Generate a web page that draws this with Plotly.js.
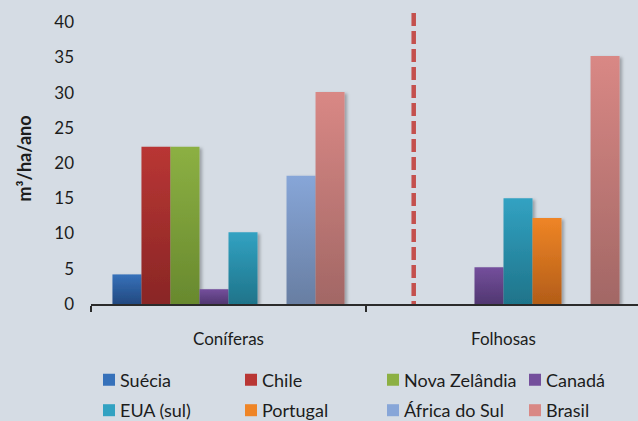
<!DOCTYPE html>
<html>
<head>
<meta charset="utf-8">
<script src="https://cdn.plot.ly/plotly-3.0.1.min.js"></script>
<style>
  html, body { margin: 0; padding: 0; background: #d5dce4; }
  #chart { width: 638px; height: 421px; }
</style>
</head>
<body>
<div id="chart"></div>
<script>
// Annual growth (m³/ha/ano) by wood type and country
const categories = ['Coníferas', 'Folhosas'];
const countries = ['Suécia', 'Chile', 'Nova Zelândia', 'Canadá', 'EUA (sul)', 'Portugal', 'África do Sul', 'Brasil'];

const suecia       = [4.2, null];
const chile        = [22.3, null];
const novaZelandia = [22.3, null];
const canada       = [2.1, 5.2];
const euaSul       = [10.2, 15];
const portugal     = [null, 12.2];
const africaSul    = [18.2, null];
const brasil       = [30.1, 35.2];

const seriesValues = [suecia, chile, novaZelandia, canada, euaSul, portugal, africaSul, brasil];

// Divider between the two groups, in category-axis units, and its height
const dividerX = 0.6735;
const dividerTop = 41.3;

// Bar fills: light top, darker base
const topColors    = ['#3671ba', '#b93634', '#8cb043', '#744f9c', '#32a2c2', '#ef8526', '#87a6d8', '#d98885'];
const bottomColors = ['#234980', '#892625', '#68892e', '#513771', '#1f748a', '#b35d18', '#687ea2', '#a26765'];

const FONT = 'Lato, "Open Sans", "DejaVu Sans", sans-serif';
const INK = '#1c1c1c';

const traces = countries.map((name, i) => ({
  type: 'bar',
  name: name,
  x: categories,
  y: seriesValues[i],
  marker: { color: topColors[i], line: { width: 0 } },
  legend: i < 4 ? 'legend' : 'legend2',
  hoverinfo: 'x+y+name'
}));

const legendBase = {
  orientation: 'h',
  xanchor: 'left',
  yanchor: 'middle',
  bgcolor: 'rgba(0,0,0,0)',
  borderwidth: 0,
  font: { family: FONT, size: 18, color: INK },
  entrywidthmode: 'pixels',
  entrywidth: 97,
  traceorder: 'normal'
};

const layout = {
  width: 638,
  height: 421,
  margin: { l: 91, r: 0, t: 13, b: 117, pad: 0, autoexpand: false },
  paper_bgcolor: '#d5dce4',
  plot_bgcolor: '#d5dce4',
  barmode: 'group',
  bargap: 0.156,
  bargroupgap: 0,
  showlegend: true,
  font: { family: FONT, color: INK },
  xaxis: {
    type: 'category',
    range: [-0.5, 1.4891],
    showgrid: false,
    zeroline: false,
    showline: true,
    linecolor: '#2b2b2b',
    linewidth: 2,
    ticks: 'outside',
    tickson: 'boundaries',
    ticklen: 6,
    tickwidth: 1.5,
    tickcolor: '#2b2b2b',
    ticklabelstandoff: 19,
    tickfont: { family: FONT, size: 17, color: INK }
  },
  yaxis: {
    range: [0, dividerTop],
    tick0: 0,
    dtick: 5,
    showgrid: false,
    zeroline: false,
    showline: false,
    ticks: '',
    ticklabelstandoff: 16,
    tickfont: { family: FONT, size: 17, color: INK },
    title: { text: '<b>m³/ha/ano</b>', font: { family: FONT, size: 18, color: INK }, standoff: 17 }
  },
  legend: Object.assign({}, legendBase, { x: -0.0201, y: -0.261 }),
  legend2: Object.assign({}, legendBase, { x: -0.0201, y: -0.366 }),
  shapes: [{
    type: 'line',
    xref: 'x', yref: 'y',
    x0: dividerX, x1: dividerX,
    y0: dividerTop, y1: 0,
    line: { color: '#c4504d', width: 4.5, dash: '13px,5px' },
    layer: 'above'
  }]
};

function ensureDefs(gd) {
  const ns = 'http://www.w3.org/2000/svg';
  if (document.getElementById('barFill0')) return;
  const svg = gd.querySelector('svg.main-svg');
  let defs = svg.querySelector('defs');
  if (!defs) { defs = document.createElementNS(ns, 'defs'); svg.insertBefore(defs, svg.firstChild); }

  countries.forEach((name, i) => {
    const lg = document.createElementNS(ns, 'linearGradient');
    lg.setAttribute('id', 'barFill' + i);
    lg.setAttribute('x1', '0'); lg.setAttribute('y1', '0');
    lg.setAttribute('x2', '0'); lg.setAttribute('y2', '1');
    [[0, topColors[i]], [1, bottomColors[i]]].forEach(([off, col]) => {
      const st = document.createElementNS(ns, 'stop');
      st.setAttribute('offset', off);
      st.setAttribute('stop-color', col);
      lg.appendChild(st);
    });
    defs.appendChild(lg);
  });

  const flt = document.createElementNS(ns, 'filter');
  flt.setAttribute('id', 'barShadow');
  flt.setAttribute('x', '-30%'); flt.setAttribute('y', '-10%');
  flt.setAttribute('width', '170%'); flt.setAttribute('height', '125%');
  const ds = document.createElementNS(ns, 'feDropShadow');
  ds.setAttribute('dx', '2.5'); ds.setAttribute('dy', '1.5');
  ds.setAttribute('stdDeviation', '1.6');
  ds.setAttribute('flood-color', '#000'); ds.setAttribute('flood-opacity', '0.28');
  flt.appendChild(ds);
  defs.appendChild(flt);
}

function styleChart(gd) {
  ensureDefs(gd);

  gd.querySelectorAll('.barlayer .trace').forEach((t, i) => {
    t.querySelectorAll('path').forEach(p => {
      p.style.fill = 'url(#barFill' + i + ')';
      p.setAttribute('filter', 'url(#barShadow)');
    });
  });

  // Legend swatches: same gradient, sitting close to their labels
  gd.querySelectorAll('.legendpoints').forEach(pts => {
    pts.setAttribute('transform', 'translate(9,0)');
    const item = pts.parentNode;
    const txt = item && item.querySelector('.legendtext');
    const i = txt ? countries.indexOf(txt.textContent.trim()) : -1;
    if (i < 0) return;
    pts.querySelectorAll('path').forEach(p => { p.style.fill = 'url(#barFill' + i + ')'; });
  });
}

const gd = document.getElementById('chart');
Plotly.newPlot(gd, traces, layout, { displayModeBar: false, staticPlot: true })
  .then(() => {
    styleChart(gd);
    gd.on('plotly_afterplot', () => styleChart(gd));
    requestAnimationFrame(() => styleChart(gd));
    setTimeout(() => styleChart(gd), 50);
    setTimeout(() => styleChart(gd), 300);
  });
</script>
</body>
</html>
